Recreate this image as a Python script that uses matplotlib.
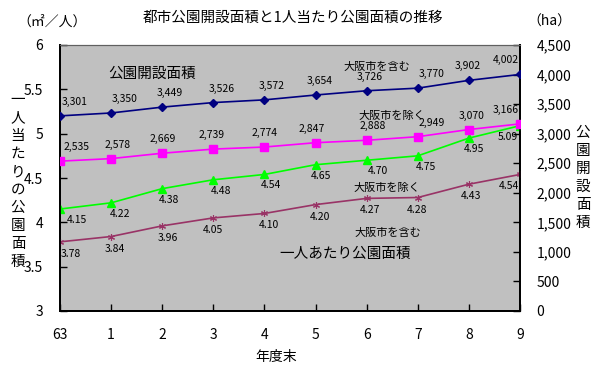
import matplotlib
matplotlib.use('Agg')
import matplotlib.pyplot as plt

plt.rcParams['font.family'] = ['Noto Sans CJK JP', 'DejaVu Sans']

# 年度末
years = ['63', '1', '2', '3', '4', '5', '6', '7', '8', '9']

# 公園開設面積 (ha)
area_incl_osaka = [3301, 3350, 3449, 3526, 3572, 3654, 3726, 3770, 3902, 4002]
area_excl_osaka = [2535, 2578, 2669, 2739, 2774, 2847, 2888, 2949, 3070, 3166]

# 一人当たり公園面積 (㎡/人)
per_excl_osaka = [4.15, 4.22, 4.38, 4.48, 4.54, 4.65, 4.70, 4.75, 4.95, 5.09]
per_incl_osaka = [3.78, 3.84, 3.96, 4.05, 4.10, 4.20, 4.27, 4.28, 4.43, 4.54]

W, H = 605, 375


def px(x, y):
    # ピクセル座標 -> figure座標
    return x / W, 1 - y / H


fig = plt.figure(figsize=(W / 100, H / 100), dpi=100)
fig.patch.set_facecolor('white')

ax = fig.add_axes([60 / W, 1 - 311 / H, 460 / W, 266 / H])
ax.set_facecolor('#C0C0C0')
ax2 = ax.twinx()

xs = list(range(len(years)))

ax2.plot(xs, area_incl_osaka, color='#000080', lw=1.2, marker='D', ms=4.5, zorder=3)
ax2.plot(xs, area_excl_osaka, color='#FF00FF', lw=1.2, marker='s', ms=6, zorder=3)
ax.plot(xs, per_excl_osaka, color='#00FF00', lw=1.2, marker='^', ms=6, zorder=3)
ax.plot(xs, per_incl_osaka, color='#993366', lw=1.2, marker=(6, 2, 0), ms=5,
        mew=0.8, zorder=3)

# データラベルのずらし量 (pixels)
dx_blue = [15, 13, 8, 8, 7, 4, 3, 14, -1, -14]
dx_mag = [17, 6, 1, -2, 0, -4, 6, 14, 3, -14]
dx_green = [17, 9, 7, 8, 7, 5, 11, 8, 5, -12]
dx_red = [11, 4, 6, 0, 4, 4, 3, -1, 2, -11]

lab_kw = dict(textcoords='offset pixels', ha='center', va='center', fontsize=7.5,
              annotation_clip=False)
for i in xs:
    ax2.annotate(f'{area_incl_osaka[i]:,}', (i, area_incl_osaka[i]),
                 xytext=(dx_blue[i], 14), **lab_kw)
    ax2.annotate(f'{area_excl_osaka[i]:,}', (i, area_excl_osaka[i]),
                 xytext=(dx_mag[i], 14), **lab_kw)
    ax.annotate(f'{per_excl_osaka[i]:.2f}', (i, per_excl_osaka[i]),
                xytext=(dx_green[i], -11), **lab_kw)
    ax.annotate(f'{per_incl_osaka[i]:.2f}', (i, per_incl_osaka[i]),
                xytext=(dx_red[i], -12), **lab_kw)

ax.set_xlim(0, len(years) - 1)
ax.set_ylim(3, 6)
ax2.set_ylim(0, 4500)
ax.set_xticks(xs)
ax.set_xticklabels(years)
ax.set_yticks([3, 3.5, 4, 4.5, 5, 5.5, 6])
ax.set_yticklabels(['3', '3.5', '4', '4.5', '5', '5.5', '6'])
ax2.set_yticks(range(0, 4501, 500))
ax2.set_yticklabels([f'{v:,}' for v in range(0, 4501, 500)])

ax.tick_params(axis='y', direction='in', length=5, width=1, pad=12, labelsize=10)
ax.tick_params(axis='x', direction='in', length=5, width=1, pad=12, labelsize=10)
ax2.tick_params(axis='y', direction='in', length=5, width=1, pad=12, labelsize=10)

for a in (ax, ax2):
    for s in ('left', 'right', 'bottom'):
        a.spines[s].set_linewidth(1.3)
        a.spines[s].set_color('black')
    a.spines['top'].set_color('#606060')
    a.spines['top'].set_linewidth(0.8)

# タイトル・軸ラベル
fig.text(*px(293, 18), '都市公園開設面積と1人当たり公園面積の推移',
         ha='center', va='center', fontsize=10.5)
fig.text(*px(52, 22), '（㎡／人）', ha='center', va='center', fontsize=10)
fig.text(*px(549, 22), '（ha）', ha='center', va='center', fontsize=10)
fig.text(*px(276, 357), '年度末', ha='center', va='center', fontsize=10)

fig.text(*px(18, 181), '\n'.join('一人当たりの公園面積'), ha='center', va='center',
         fontsize=10.5, linespacing=1.36)
fig.text(*px(583, 178), '\n'.join('公園開設面積'), ha='center', va='center',
         fontsize=10.5, linespacing=1.36)

# 系列の注記
fig.text(*px(152, 74), '公園開設面積', ha='center', va='center', fontsize=10.5)
fig.text(*px(377, 67), '大阪市を含む', ha='center', va='center', fontsize=8)
fig.text(*px(392, 116), '大阪市を除く', ha='center', va='center', fontsize=8)
fig.text(*px(387, 188), '大阪市を除く', ha='center', va='center', fontsize=8)
fig.text(*px(388, 233), '大阪市を含む', ha='center', va='center', fontsize=8)
fig.text(*px(345, 254), '一人あたり公園面積', ha='center', va='center', fontsize=10.5)

fig.savefig('out.png', dpi=100)
